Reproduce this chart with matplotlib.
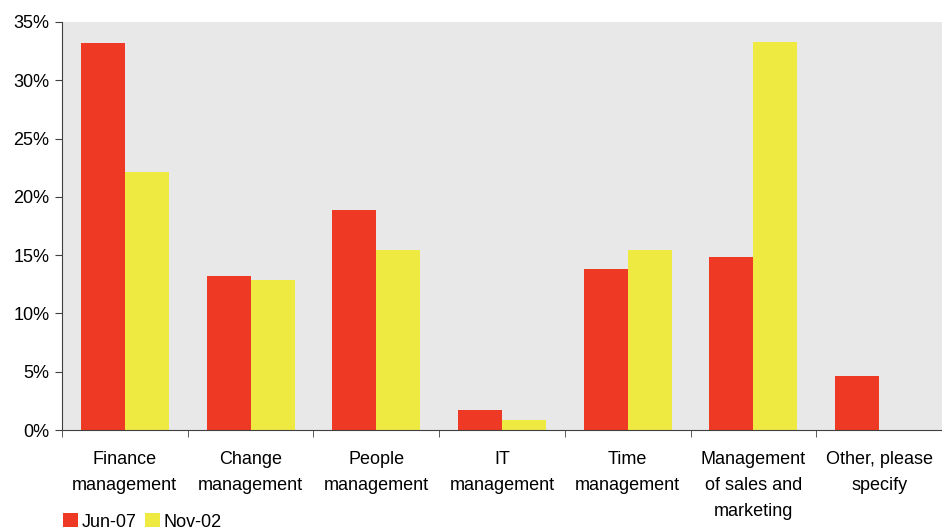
import numpy as np
import matplotlib.pyplot as plt
from matplotlib.ticker import FixedLocator, FuncFormatter

plt.rcParams['font.family'] = ['Liberation Sans', 'DejaVu Sans']

categories = ["Finance\nmanagement", "Change\nmanagement", "People\nmanagement",
              "IT\nmanagement", "Time\nmanagement",
              "Management\nof sales and\nmarketing", "Other, please\nspecify"]
jun07 = [33.2, 13.2, 18.9, 1.7, 13.8, 14.8, 4.6]
nov02 = [22.1, 12.9, 15.4, 0.9, 15.4, 33.3, 0.0]
series_names = ["Jun-07", "Nov-02"]

red = "#EE3A24"
yellow = "#EEEA42"

fig = plt.figure(figsize=(9.42, 5.31), dpi=100)
ax = fig.add_axes([0.0658, 0.1902, 0.9342, 0.7684])
ax.set_facecolor("#E8E8E8")

x = np.arange(len(categories)) + 0.5
w = 0.35
b1 = ax.bar(x - w / 2, jun07, w, color=red, label=series_names[0])
b2 = ax.bar(x + w / 2, nov02, w, color=yellow, label=series_names[1])

ax.set_xlim(0, len(categories))
ax.set_ylim(0, 35)
ax.set_yticks(np.arange(0, 36, 5))
ax.yaxis.set_major_formatter(FuncFormatter(lambda v, p: f"{int(v)}%"))

# category labels in the middle, tick marks at the boundaries
ax.set_xticks(x)
ax.set_xticklabels(categories, fontsize=13, linespacing=1.7, va="top")
ax.tick_params(axis="x", which="major", length=0, pad=15)
ax.xaxis.set_minor_locator(FixedLocator(np.arange(0, len(categories) + 1)))
ax.tick_params(axis="x", which="minor", length=5, color="#404040")
ax.tick_params(axis="y", length=5, color="#404040", labelsize=13, pad=4)

for s in ["top", "right"]:
    ax.spines[s].set_visible(False)
for s in ["left", "bottom"]:
    ax.spines[s].set_color("#404040")

fig.legend(handles=[b1, b2], loc="lower left", bbox_to_anchor=(0.05, -0.03),
           ncol=2, frameon=False, fontsize=13, handlelength=0.8,
           handleheight=0.8, handletextpad=0.2, columnspacing=0.5)

fig.savefig("out.png", dpi=100)
